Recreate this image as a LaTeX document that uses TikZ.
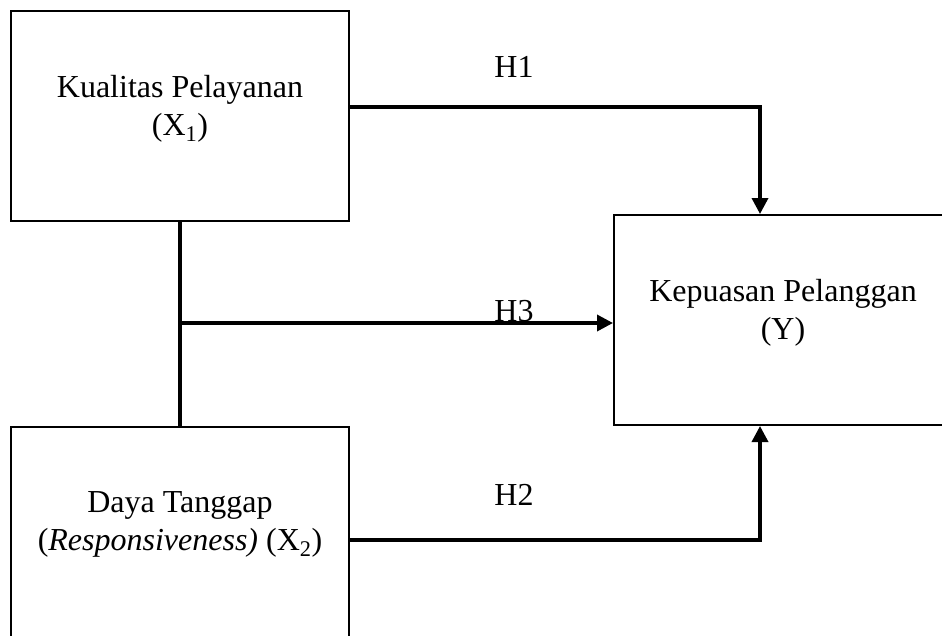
\documentclass[tikz,border=0pt]{standalone}
\usepackage{fontspec}
\setmainfont{Liberation Serif}
\usetikzlibrary{arrows.meta,positioning}
\begin{document}
\begin{tikzpicture}
  [x=1pt,y=-1pt,
   every node/.style={font=\fontsize{32}{38}\selectfont},
   varbox/.style={draw,line width=2pt,minimum width=338pt,minimum height=210pt,inner sep=0pt},
   vartext/.style={align=center,yshift=7.5pt},
   link/.style={line width=3.5pt},
   arrow/.style={link,-{Triangle[length=16pt,width=16pt]}}]
  \useasboundingbox (0,0) rectangle (942,635);
  \clip (0,0) rectangle (942,635);
  % variables
  \node[varbox,label={[vartext]center:Kualitas Pelayanan\\(X\textsubscript{1})}] (x1) at (180,116) {};
  \node[varbox,label={[vartext]center:Daya Tanggap\\(\textit{Responsiveness)} (X\textsubscript{2})}] (x2) at (180,532) {};
  \node[varbox,label={[vartext]center:Kepuasan Pelanggan\\(Y)}] (y) at (783,320) {};
  % hypotheses
  \coordinate (h1) at (760,107);
  \coordinate (h2) at (760,540);
  \coordinate (h3) at (180,323);
  \draw[arrow] (x1.east |- h1) -| (y.north -| h1);
  \draw[arrow] (x2.east |- h2) -| (y.south -| h2);
  \draw[link] (x1.south) -- (x2.north);
  \draw[arrow] (h3) -- (h3 -| y.west);
  \node[anchor=base] (l1) at (514,77) {H1};
  \node[anchor=base] (l3) at (514,321) {H3};
  \node[anchor=base] (l2) at (514,505) {H2};
\end{tikzpicture}
\end{document}
